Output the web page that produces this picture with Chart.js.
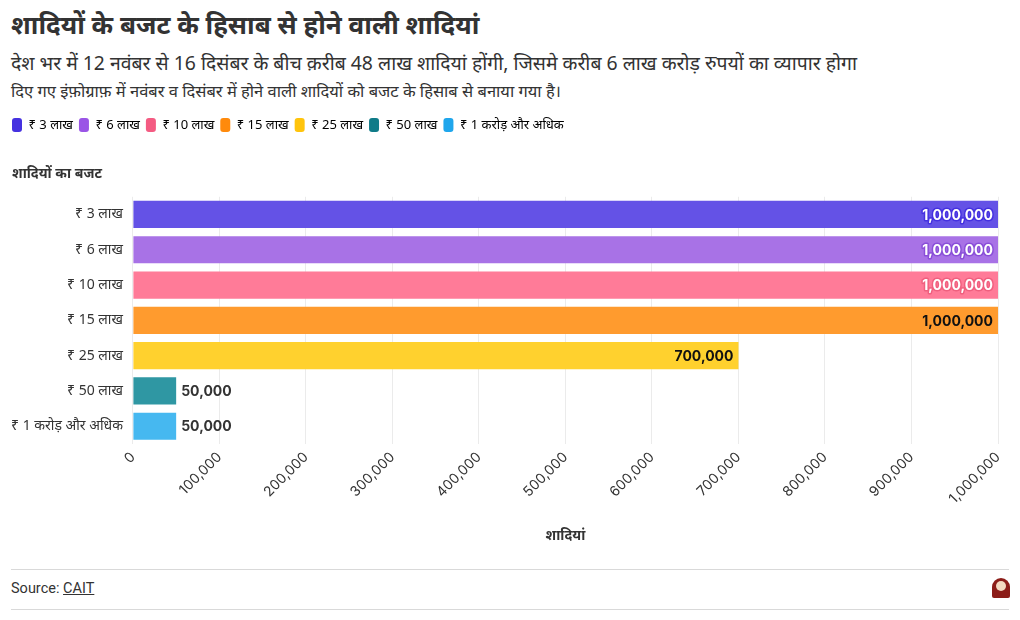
<!DOCTYPE html>
<html>
<head>
<meta charset="utf-8">
<script src="https://cdn.jsdelivr.net/npm/chart.js@4.4.1/dist/chart.umd.min.js"></script>
<style>
  html,body{margin:0;padding:0;background:#fff;}
  body{width:1020px;height:620px;position:relative;overflow:hidden;font-family:"Noto Sans","Noto Sans Devanagari",Roboto,sans-serif;color:#333;}
  #title{position:absolute;left:11px;top:6px;font-size:26px;font-weight:700;color:#333;white-space:nowrap;}
  #sub{position:absolute;left:11px;top:49px;font-size:19.4px;color:#333;white-space:nowrap;}
  #desc{position:absolute;left:11px;top:79px;font-size:16.5px;color:#333;white-space:nowrap;}
  #wrap{position:absolute;left:0;top:112px;width:1020px;height:448px;}
  #foot1{position:absolute;left:11px;right:11px;top:569px;border-top:1px solid #d9d9d9;}
  #foot2{position:absolute;left:11px;right:11px;top:609px;border-top:1px solid #d9d9d9;}
  #src{position:absolute;left:11px;top:580px;font-size:14.5px;color:#333;font-family:Roboto,sans-serif;}
  #src u{text-decoration:underline;}
  #logo{position:absolute;left:992px;top:578px;width:18px;height:20px;border-radius:9px 9px 2px 2px;background:#8c1d18;}
  #logo i{position:absolute;left:4px;top:3px;width:10px;height:10px;border-radius:5px;background:#f3d9c0;}
</style>
</head>
<body>
<div id="title">शादियों के बजट के हिसाब से होने वाली शादियां</div>
<div id="sub">देश भर में 12 नवंबर से 16 दिसंबर के बीच क़रीब 48 लाख शादियां होंगी, जिसमे करीब 6 लाख करोड़ रुपयों का व्यापार होगा</div>
<div id="desc">दिए गए इंफ़ोग्राफ़ में नवंबर व दिसंबर में होने वाली शादियों को बजट के हिसाब से बनाया गया है।</div>
<div id="wrap"><canvas id="c" width="1020" height="448"></canvas></div>
<div id="foot1"></div>
<div id="src">Source: <u>CAIT</u></div>
<div id="logo"><i></i></div>
<div id="foot2"></div>
<script>
const categories = ["₹ 3 लाख", "₹ 6 लाख", "₹ 10 लाख", "₹ 15 लाख", "₹ 25 लाख", "₹ 50 लाख", "₹ 1 करोड़ और अधिक"];
const weddings = [1000000, 1000000, 1000000, 1000000, 700000, 50000, 50000];
const xTicks = [0, 100000, 200000, 300000, 400000, 500000, 600000, 700000, 800000, 900000, 1000000];
const yAxisTitle = "शादियों का बजट";
const xAxisTitle = "शादियां";

const barColors = ["#6452e6", "#a872e6", "#ff7b98", "#ff9b2e", "#ffd12e", "#2f97a3", "#46b8f0"];
const legendColors = ["#4531e0", "#9a55e6", "#f45b82", "#ff8a0c", "#ffc40c", "#0f7b88", "#1fa6ec"];
const labelText = ["#ffffff", "#ffffff", "#ffffff", "#111111", "#111111", "#333333", "#333333"];
const labelHalo = ["#4531e0", "#8a4fd8", "#f0607f", "#ff9b2e", "#ffd12e", null, null];

const fmt = v => v.toLocaleString('en-US');

const valueLabels = {
  id: 'valueLabels',
  afterDatasetsDraw(chart) {
    const ctx = chart.ctx;
    const meta = chart.getDatasetMeta(0);
    ctx.save();
    ctx.font = '700 14px Inter, "Open Sans", sans-serif';
    ctx.textBaseline = 'middle';
    meta.data.forEach((bar, i) => {
      const txt = fmt(weddings[i]);
      const w = ctx.measureText(txt).width;
      const barLen = bar.x - bar.base;
      let x, align, inside;
      if (barLen > w + 12) { x = bar.x - 5; align = 'right'; inside = true; }
      else { x = bar.x + 5; align = 'left'; inside = false; }
      ctx.textAlign = align;
      if (inside && labelHalo[i]) {
        ctx.lineWidth = 3; ctx.lineJoin = 'round';
        ctx.strokeStyle = labelHalo[i];
        ctx.strokeText(txt, x, bar.y + 1);
      }
      ctx.fillStyle = inside ? labelText[i] : '#333333';
      ctx.fillText(txt, x, bar.y + 1);
    });
    ctx.restore();
  }
};

// align legend and axis-title block with the page's left margin
const blockShift = {
  id: 'blockShift',
  afterLayout(chart) {
    if (chart.legend) chart.legend.left += 5;
    if (chart.titleBlock) chart.titleBlock.left += 11;
  }
};

new Chart(document.getElementById('c'), {
  type: 'bar',
  data: {
    labels: categories,
    datasets: [{
      label: xAxisTitle,
      data: weddings,
      backgroundColor: barColors,
      borderWidth: 0,
      categoryPercentage: 0.77,
      barPercentage: 1.0
    }]
  },
  options: {
    indexAxis: 'y',
    responsive: false,
    animation: false,
    devicePixelRatio: 1,
    layout: { padding: { left: 1, right: 22, top: 0, bottom: 16 } },
    plugins: {
      tooltip: { enabled: false },
      legend: {
        position: 'top',
        align: 'start',
        labels: {
          boxWidth: 10,
          boxHeight: 14,
          useBorderRadius: true,
          borderRadius: 3,
          padding: 6,
          color: '#333',
          font: { size: 13, family: '"Noto Sans", Roboto, sans-serif' },
          generateLabels: () => categories.map((c, i) => ({
            text: c, fillStyle: legendColors[i], strokeStyle: legendColors[i],
            lineWidth: 0, borderRadius: 3, hidden: false, index: i, datasetIndex: 0
          }))
        },
        onClick: () => {}
      },
      title: {
        display: true,
        text: yAxisTitle,
        align: 'start',
        weight: 500,
        color: '#333',
        font: { size: 14, weight: '700', family: '"Noto Sans", Roboto, sans-serif' },
        padding: { top: 24, bottom: 14 }
      }
    },
    scales: {
      x: {
        min: 0, max: 1000000,
        afterBuildTicks: ax => { ax.ticks = xTicks.map(v => ({ value: v })); },
        grid: { color: '#ebebeb', drawTicks: false },
        border: { display: false },
        ticks: {
          maxRotation: 45, minRotation: 45,
          color: '#333',
          font: { size: 14, family: 'Inter, "Open Sans", sans-serif' },
          callback: v => fmt(v),
          padding: 5
        },
        title: {
          display: true, text: xAxisTitle, color: '#333',
          font: { size: 14, weight: '700', family: '"Noto Sans", Roboto, sans-serif' },
          padding: { top: 15, bottom: 0 }
        }
      },
      y: {
        grid: { display: false, drawTicks: false },
        border: { display: false },
        ticks: {
          color: '#333',
          font: { size: 14, family: '"Noto Sans", Roboto, sans-serif' },
          padding: 10
        }
      }
    }
  },
  plugins: [valueLabels, blockShift]
});
</script>
</body>
</html>
